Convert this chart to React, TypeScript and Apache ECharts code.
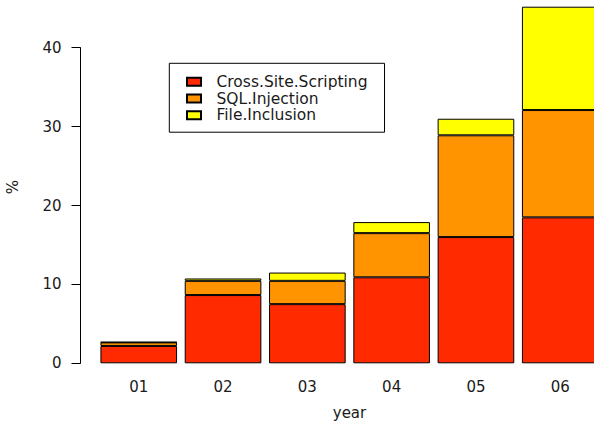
import React, { useEffect, useRef } from "react";
import * as echarts from "echarts";

const years = ["01", "02", "03", "04", "05", "06"];
const crossSiteScripting = [2.2, 8.65, 7.5, 10.9, 16.0, 18.5];
const sqlInjection = [0.45, 1.8, 2.95, 5.6, 12.9, 13.6];
const fileInclusion = [0.05, 0.3, 1.05, 1.4, 2.1, 13.1];
const seriesNames = ["Cross.Site.Scripting", "SQL.Injection", "File.Inclusion"];
const seriesColors = ["#FF2A00", "#FF9400", "#FFFF00"];
const axisMin = 0;
const axisMax = 40;
const axisStep = 10;

const FONT = "DejaVu Sans";
const TXT = "#1a1a1a";

export default function App() {
  const ref = useRef<HTMLDivElement>(null);
  useEffect(() => {
    if (!ref.current) return;
    const chart = echarts.init(ref.current, undefined, { renderer: "svg" });
    const values = [crossSiteScripting, sqlInjection, fileInclusion];
    chart.setOption({
      animation: false,
      backgroundColor: "#ffffff",
      grid: [
        { left: 96.6, top: 0.4, width: 505.8, height: 362.9, outerBoundsMode: "none", containLabel: false },
        { left: 80.5, top: 47.7, width: 10, height: 315.6, outerBoundsMode: "none", containLabel: false },
      ],
      xAxis: [
        {
          type: "category",
          gridIndex: 0,
          data: years,
          axisLine: { show: false },
          axisTick: { show: false },
          axisLabel: { margin: 16, fontFamily: FONT, fontSize: 15, color: TXT },
          name: "year",
          nameLocation: "middle",
          nameGap: 42,
          nameTextStyle: { fontFamily: FONT, fontSize: 15, color: TXT, lineHeight: 15 },
        },
        { type: "value", gridIndex: 1, show: false, min: 0, max: 1 },
      ],
      yAxis: [
        { type: "value", gridIndex: 0, min: 0, max: 46, show: false },
        {
          type: "value",
          gridIndex: 1,
          min: axisMin,
          max: axisMax,
          interval: axisStep,
          axisLine: { show: true, lineStyle: { color: "#000", width: 1 } },
          axisTick: { show: true, inside: false, length: 9, lineStyle: { color: "#000" } },
          splitLine: { show: false },
          axisLabel: { margin: 19, fontFamily: FONT, fontSize: 15, color: TXT },
        },
      ],
      legend: {
        orient: "vertical",
        left: 169.3,
        top: 63.3,
        data: seriesNames,
        borderColor: "#000",
        borderWidth: 1,
        padding: [10.5, 17, 9, 16.7],
        itemWidth: 14,
        itemHeight: 8,
        itemGap: 0.7,
        icon: "rect",
        textStyle: {
          fontFamily: FONT,
          fontSize: 15.5,
          color: TXT,
          lineHeight: 15,
          padding: [0, 0, 0, 10.5],
        },
      },
      series: seriesNames.map((name, i) => ({
        name,
        type: "bar",
        stack: "total",
        xAxisIndex: 0,
        yAxisIndex: 0,
        barCategoryGap: "9.09%",
        data: values[i],
        itemStyle: { color: seriesColors[i], borderColor: "#000", borderWidth: 1 },
      })),
      graphic: [
        {
          type: "text",
          x: 13,
          y: 187,
          rotation: Math.PI / 2,
          style: {
            text: "%",
            fontFamily: FONT,
            fontSize: 15,
            fill: TXT,
            align: "center",
            verticalAlign: "middle",
          },
        },
      ],
    });
    return () => chart.dispose();
  }, []);
  return (
    <div
      ref={ref}
      style={{ position: "absolute", left: 0, top: 0, width: 594, height: 423 }}
    />
  );
}
